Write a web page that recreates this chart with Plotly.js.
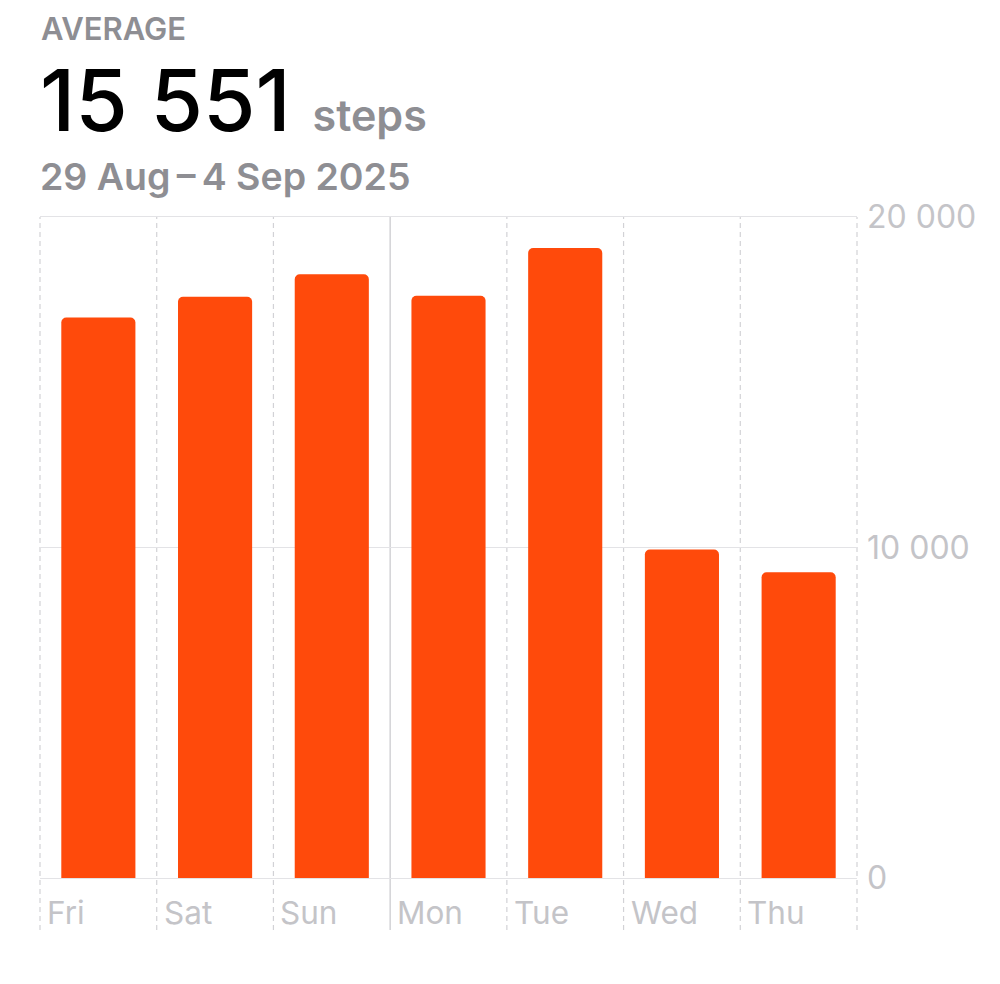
<!DOCTYPE html>
<html>
<head>
<meta charset="utf-8">
<script src="https://cdn.plot.ly/plotly-3.0.1.min.js"></script>
<style>
  html, body { margin: 0; padding: 0; background: #fff; }
  #chart { width: 1000px; height: 984px; }
</style>
</head>
<body>
<div id="chart"></div>
<script>
// ---- data ----
const days = ['Fri', 'Sat', 'Sun', 'Mon', 'Tue', 'Wed', 'Thu'];
const steps = [16960, 17585, 18270, 17615, 19060, 9940, 9252];
const yTicks = [0, 10000, 20000];
const headerLabel = 'AVERAGE';
const unitLabel = 'steps';
const dateRange = '29 Aug\u2009\u2013\u20094 Sep 2025';
const weekStartIndex = 3; // Mon
const displayedAverage = 15551;

// ---- style ----
const FONT = 'Inter, "Noto Sans", sans-serif';
const BAR = '#FF4A0B';
const GRID = '#E3E3E6';
const DASH = '#D2D2D6';
const LABEL = '#C4C4C8';
const HEAD = '#8E8E93';

const W = 1000, H = 984;
const L = 40, R = 143, T = 217, B = 106;
const plotH = H - T - B, plotW = W - L - R;
const py = px => (H - B - px) / plotH; // page pixel y -> paper y
const pxX = px => (px - L) / plotW;     // page pixel x -> paper x

const fmt = n => String(n).replace(/\B(?=(\d{3})+(?!\d))/g, ' ');

const n = days.length;
const shapes = [];
for (let i = 0; i <= n; i++) {
  const solid = (i === weekStartIndex);
  shapes.push({
    type: 'line', xref: 'paper', yref: 'paper',
    x0: i / n, x1: i / n, y0: py(930), y1: 1,
    line: { color: solid ? '#C8C8CC' : DASH, width: 1.2, dash: solid ? 'solid' : '5px,4px' },
    layer: 'below'
  });
}

const annotations = [
  { xref: 'paper', yref: 'paper', x: pxX(39), y: py(28), xanchor: 'left', yanchor: 'middle',
    text: headerLabel, showarrow: false, font: { family: FONT, size: 31, color: HEAD, weight: 600 } },
  { xref: 'paper', yref: 'paper', x: pxX(38), y: py(100), xanchor: 'left', yanchor: 'middle',
    text: fmt(displayedAverage) + '<span style="font-size:43px;fill:' + HEAD + ';font-weight:600">\u00a0\u00a0' + unitLabel + '</span>',
    showarrow: false, font: { family: FONT, size: 85, color: '#000', weight: 500 } },
  { xref: 'paper', yref: 'paper', x: pxX(38), y: py(176), xanchor: 'left', yanchor: 'middle',
    text: dateRange, showarrow: false, font: { family: FONT, size: 37.5, color: HEAD, weight: 600 } }
];
days.forEach((d, i) => {
  annotations.push({
    xref: 'x', yref: 'paper', x: i - 0.5, xshift: 5, y: py(912), xanchor: 'left', yanchor: 'middle',
    text: d, showarrow: false, font: { family: FONT, size: 31.5, color: LABEL }
  });
});

const trace = {
  type: 'bar', x: days.map((_, i) => i), y: steps,
  width: 0.635,
  marker: { color: BAR, cornerradius: 5, line: { width: 0 } },
  hoverinfo: 'skip'
};

const layout = {
  width: W, height: H,
  margin: { l: L, r: R, t: T, b: B, pad: 0 },
  paper_bgcolor: '#fff', plot_bgcolor: '#fff',
  separators: '. ',
  showlegend: false,
  xaxis: {
    range: [-0.5, n - 0.5], showgrid: false, zeroline: false,
    showline: true, mirror: true, linecolor: GRID, linewidth: 1.4,
    showticklabels: false, ticks: '', fixedrange: true
  },
  yaxis: {
    range: [0, 20000], side: 'right', tickvals: yTicks, ticktext: yTicks.map(fmt),
    showgrid: true, gridcolor: GRID, gridwidth: 1.4, zeroline: false,
    ticks: '', ticklabelstandoff: 9,
    tickfont: { family: FONT, size: 32, color: LABEL }, fixedrange: true
  },
  shapes, annotations
};

Plotly.newPlot('chart', [trace], layout, { staticPlot: true, displayModeBar: false });
</script>
</body>
</html>
